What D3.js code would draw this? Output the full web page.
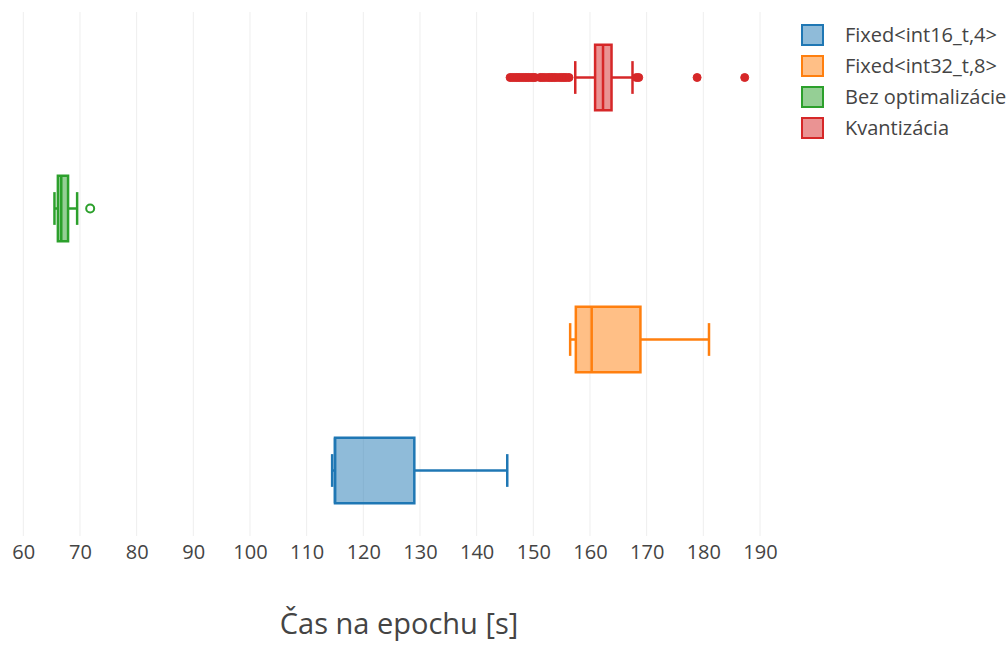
<!DOCTYPE html>
<html>
<head>
<meta charset="utf-8">
<script src="https://cdn.jsdelivr.net/npm/d3@7"></script>
<style>
  body { margin: 0; background: #fff; }
  text { font-family: "Open Sans", sans-serif; fill: #444; }
</style>
</head>
<body>
<div id="chart"></div>
<script>
// series, top to bottom on the chart
const names = ['Kvantizácia', 'Bez optimalizácie', 'Fixed<int32_t,8>', 'Fixed<int16_t,4>'];
const colors = ['#d62728', '#2ca02c', '#ff7f0e', '#1f77b4'];
const lowerFence = [157.4, 65.5, 156.5, 114.5];
const q1 = [160.9, 66.1, 157.5, 115.0];
const median = [162.3, 66.7, 160.3, 115.0];
const q3 = [163.8, 67.9, 168.9, 129.0];
const upperFence = [167.5, 69.5, 181.0, 145.4];
const outliers = [
    [145.9, 146.3, 146.7, 147.1, 147.5, 147.9, 148.3, 148.7, 149.1, 149.5, 149.9, 150.3,
     151.2, 151.6, 152.0, 152.5, 152.9, 153.3, 153.7, 154.1, 154.6, 155.0, 155.4, 155.8, 156.3,
     168.2, 168.6, 178.9, 187.3],
    [71.8],
    [],
    []
];
const hollowOutliers = [false, true, false, false];
const legendOrder = ['Fixed<int16_t,4>', 'Fixed<int32_t,8>', 'Bez optimalizácie', 'Kvantizácia'];
const xTicks = [60, 70, 80, 90, 100, 110, 120, 130, 140, 150, 160, 170, 180, 190];
const xTitle = 'Čas na epochu [s]';

const W = 1006, H = 647;
const plot = { left: 10, right: 788, top: 12, bottom: 536 };

const svg = d3.select('#chart').append('svg')
    .attr('width', W)
    .attr('height', H);

const x = d3.scaleLinear()
    .domain([60, 190])
    .range([23.3, 760]);

const y = d3.scaleBand()
    .domain(names)
    .range([plot.top, plot.bottom]);

// grid
svg.append('g')
    .selectAll('line')
    .data(xTicks)
    .enter()
    .append('line')
    .attr('x1', d => x(d))
    .attr('x2', d => x(d))
    .attr('y1', plot.top)
    .attr('y2', plot.bottom)
    .attr('stroke', '#eee')
    .attr('stroke-width', 1);

// x axis labels
const axis = svg.append('g')
    .attr('transform', `translate(0,${plot.bottom})`)
    .call(d3.axisBottom(x).tickValues(xTicks).tickSize(0).tickPadding(9));
axis.select('.domain').remove();
axis.selectAll('text')
    .style('font-family', '"Open Sans", sans-serif')
    .style('font-size', '20px')
    .attr('fill', '#444');

svg.append('text')
    .attr('x', 399)
    .attr('y', 634)
    .attr('text-anchor', 'middle')
    .style('font-size', '29px')
    .text(xTitle);

// boxes
const boxH = y.bandwidth() * 0.5;
const capH = boxH * 0.5;

names.forEach((name, i) => {
    const cy = y(name) + y.bandwidth() / 2;
    const g = svg.append('g');
    const c = colors[i];

    // whiskers
    g.append('line')
        .attr('x1', x(lowerFence[i])).attr('x2', x(q1[i]))
        .attr('y1', cy).attr('y2', cy)
        .attr('stroke', c).attr('stroke-width', 2.5);
    g.append('line')
        .attr('x1', x(q3[i])).attr('x2', x(upperFence[i]))
        .attr('y1', cy).attr('y2', cy)
        .attr('stroke', c).attr('stroke-width', 2.5);
    [lowerFence[i], upperFence[i]].forEach(v => {
        g.append('line')
            .attr('x1', x(v)).attr('x2', x(v))
            .attr('y1', cy - capH / 2).attr('y2', cy + capH / 2)
            .attr('stroke', c).attr('stroke-width', 2.5);
    });

    // box
    g.append('rect')
        .attr('x', x(q1[i]))
        .attr('y', cy - boxH / 2)
        .attr('width', x(q3[i]) - x(q1[i]))
        .attr('height', boxH)
        .attr('fill', c)
        .attr('fill-opacity', 0.5)
        .attr('stroke', c)
        .attr('stroke-width', 2.5);

    // median
    g.append('line')
        .attr('x1', x(median[i])).attr('x2', x(median[i]))
        .attr('y1', cy - boxH / 2).attr('y2', cy + boxH / 2)
        .attr('stroke', c).attr('stroke-width', 2.5);

    // outliers
    g.selectAll('circle')
        .data(outliers[i])
        .enter()
        .append('circle')
        .attr('cx', d => x(d))
        .attr('cy', cy)
        .attr('r', hollowOutliers[i] ? 4 : 4)
        .attr('fill', hollowOutliers[i] ? 'none' : c)
        .attr('stroke', c)
        .attr('stroke-width', hollowOutliers[i] ? 2 : 1);
});

// legend
const legend = svg.append('g')
    .attr('transform', 'translate(801, 24)');

legendOrder.forEach((name, i) => {
    const c = colors[names.indexOf(name)];
    const row = legend.append('g')
        .attr('transform', `translate(0, ${i * 31})`);
    row.append('rect')
        .attr('x', 1).attr('y', 1)
        .attr('width', 21).attr('height', 20)
        .attr('fill', c).attr('fill-opacity', 0.5)
        .attr('stroke', c).attr('stroke-width', 2);
    row.append('text')
        .attr('x', 44)
        .attr('y', 11)
        .attr('dy', '0.35em')
        .style('font-size', '20px')
        .text(name);
});
</script>
</body>
</html>
